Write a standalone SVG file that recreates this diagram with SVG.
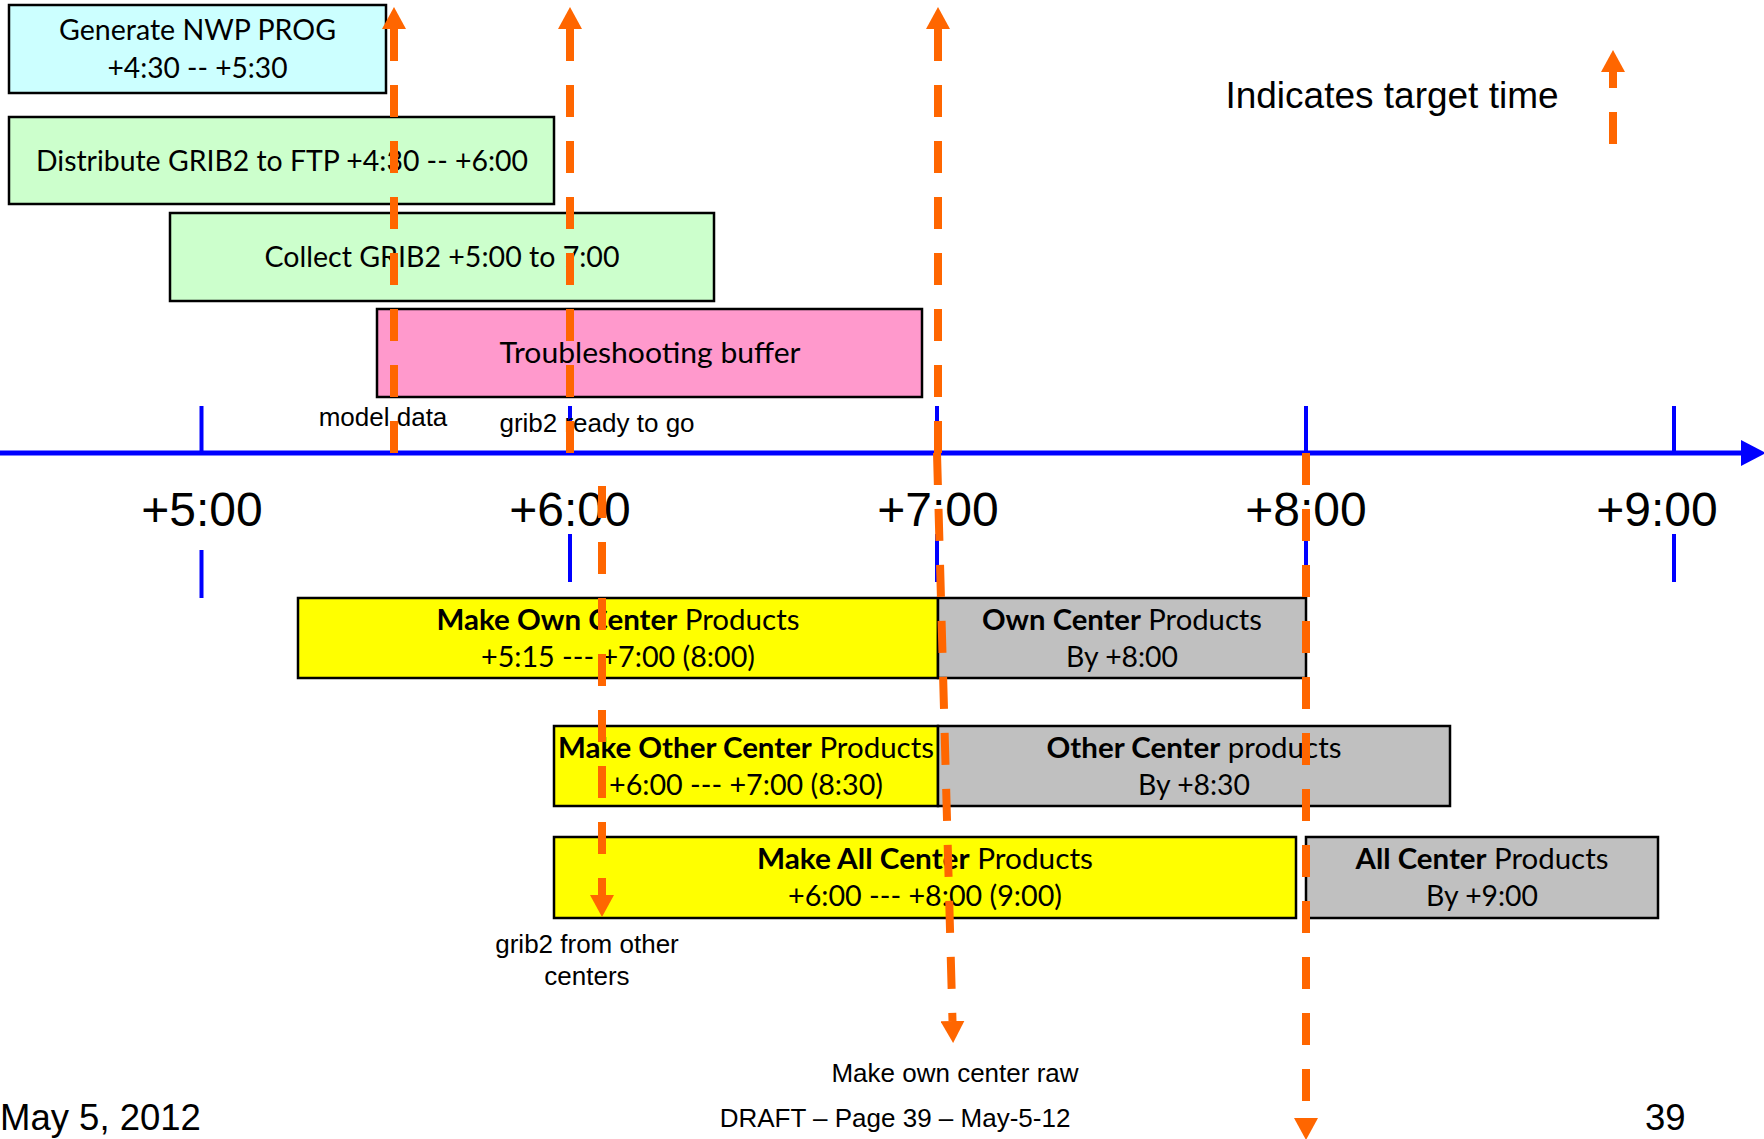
<svg xmlns="http://www.w3.org/2000/svg" width="1764" height="1139" viewBox="0 0 1764 1139">
<style>
.box{stroke:#000;stroke-width:2.5}
.cyan{fill:#CCFFFF}
.green{fill:#CCFFCC}
.pink{fill:#FF99CC}
.yellow{fill:#FFFF00}
.grey{fill:#C0C0C0}
.c{font-family:Lato,"Liberation Sans",sans-serif;font-size:29px;text-anchor:middle;fill:#000}
.b{font-weight:bold}
.a{font-family:"Liberation Sans",Arial,sans-serif;fill:#000}
.tl{font-size:48px;text-anchor:middle}
.sm{font-size:26px;text-anchor:middle}
.tick{stroke:#0000FF;stroke-width:4}
.dash{stroke:#FF6600;stroke-width:8;stroke-dasharray:32 24;fill:none;marker-end:url(#ah)}
</style>
<defs>
<marker id="ah" markerUnits="userSpaceOnUse" viewBox="0 0 22 24" refX="0" refY="12" markerWidth="22" markerHeight="24" orient="auto">
<path d="M0,0 L22,12 L0,24 z" fill="#FF6600"/>
</marker>
</defs>
<rect width="1764" height="1139" fill="#FFFFFF"/>

<g id="gen-nwp">
<rect class="box cyan" x="9" y="5" width="377" height="88"/>
<text class="c" x="197.5" y="40" textLength="277" lengthAdjust="spacingAndGlyphs">Generate NWP PROG</text>
<text class="c" x="197.5" y="78" textLength="180" lengthAdjust="spacingAndGlyphs">+4:30 -- +5:30</text>
</g>
<g id="distribute">
<rect class="box green" x="9" y="117" width="545" height="87"/>
<text class="c" x="282" y="171" textLength="492" lengthAdjust="spacingAndGlyphs">Distribute GRIB2 to FTP +4:30 -- +6:00</text>
</g>
<g id="collect">
<rect class="box green" x="170" y="213" width="544" height="88"/>
<text class="c" x="442" y="267" textLength="355" lengthAdjust="spacingAndGlyphs">Collect GRIB2 +5:00 to 7:00</text>
</g>
<g id="troubleshoot">
<rect class="box pink" x="377" y="309" width="545" height="88"/>
<text class="c" x="650" y="363" textLength="301" lengthAdjust="spacingAndGlyphs">Troubleshooting buffer</text>
</g>

<g id="timeline">
<line x1="0" y1="453" x2="1744" y2="453" stroke="#0000FF" stroke-width="5"/>
<polygon points="1741,440 1766,453 1741,466" fill="#0000FF"/>
<line class="tick" x1="201.5" y1="406" x2="201.5" y2="453"/>
<line class="tick" x1="570" y1="406" x2="570" y2="453"/>
<line class="tick" x1="937" y1="406" x2="937" y2="453"/>
<line class="tick" x1="1306" y1="406" x2="1306" y2="453"/>
<line class="tick" x1="1674" y1="406" x2="1674" y2="453"/>
<line class="tick" x1="201.5" y1="550" x2="201.5" y2="598"/>
<line class="tick" x1="570" y1="534" x2="570" y2="582"/>
<line class="tick" x1="937" y1="534" x2="937" y2="582"/>
<line class="tick" x1="1306" y1="534" x2="1306" y2="582"/>
<line class="tick" x1="1674" y1="534" x2="1674" y2="582"/>
<text class="a tl" x="202" y="526">+5:00</text>
<text class="a tl" x="570" y="526">+6:00</text>
<text class="a tl" x="938" y="526">+7:00</text>
<text class="a tl" x="1306" y="526">+8:00</text>
<text class="a tl" x="1657" y="526">+9:00</text>
</g>

<g id="label-model-data"><text class="a sm" x="383" y="426">model data</text></g>
<g id="label-grib2-ready"><text class="a sm" x="597" y="432">grib2 ready to go</text></g>

<g id="make-own">
<rect class="box yellow" x="298" y="598" width="640" height="80"/>
<text class="c" x="618" y="630" textLength="363" lengthAdjust="spacingAndGlyphs"><tspan class="b">Make Own Center</tspan> Products</text>
<text class="c" x="618" y="667" textLength="274" lengthAdjust="spacingAndGlyphs">+5:15 --- +7:00 (8:00)</text>
</g>
<g id="own-products">
<rect class="box grey" x="938" y="598" width="368" height="80"/>
<text class="c" x="1122" y="630" textLength="280" lengthAdjust="spacingAndGlyphs"><tspan class="b">Own Center</tspan> Products</text>
<text class="c" x="1122" y="667" textLength="112" lengthAdjust="spacingAndGlyphs">By +8:00</text>
</g>
<g id="make-other">
<rect class="box yellow" x="554" y="726" width="384" height="80"/>
<text class="c" x="746" y="758" textLength="376" lengthAdjust="spacingAndGlyphs"><tspan class="b">Make Other Center</tspan> Products</text>
<text class="c" x="746" y="795" textLength="274" lengthAdjust="spacingAndGlyphs">+6:00 --- +7:00 (8:30)</text>
</g>
<g id="other-products">
<rect class="box grey" x="938" y="726" width="512" height="80"/>
<text class="c" x="1194" y="758" textLength="295" lengthAdjust="spacingAndGlyphs"><tspan class="b">Other Center</tspan> products</text>
<text class="c" x="1194" y="795" textLength="112" lengthAdjust="spacingAndGlyphs">By +8:30</text>
</g>
<g id="make-all">
<rect class="box yellow" x="554" y="837" width="742" height="81"/>
<text class="c" x="925" y="869" textLength="336" lengthAdjust="spacingAndGlyphs"><tspan class="b">Make All Center</tspan> Products</text>
<text class="c" x="925" y="906" textLength="274" lengthAdjust="spacingAndGlyphs">+6:00 --- +8:00 (9:00)</text>
</g>
<g id="all-products">
<rect class="box grey" x="1306" y="837" width="352" height="81"/>
<text class="c" x="1482" y="869" textLength="253" lengthAdjust="spacingAndGlyphs"><tspan class="b">All Center</tspan> Products</text>
<text class="c" x="1482" y="906" textLength="112" lengthAdjust="spacingAndGlyphs">By +9:00</text>
</g>

<g id="label-grib2-other"><text class="a sm" x="587" y="953">grib2 from other</text><text class="a sm" x="587" y="985">centers</text></g>
<g id="label-own-raw"><text class="a sm" x="955" y="1082">Make own center raw</text></g>
<g id="legend">
<text class="a" x="1392" y="108" font-size="37" text-anchor="middle">Indicates target time</text>
<path class="dash" d="M1613,144 V72"/>
</g>

<g id="connectors">
<path class="dash" d="M394,453 V29"/>
<path class="dash" d="M570,453 V29"/>
<path class="dash" d="M938,453 V29"/>
<path class="dash" d="M602,486 V895"/>
<path class="dash" d="M937,453 L952.5,1021"/>
<path class="dash" d="M1306,453 V1118"/>
</g>

<g id="footer">
<text class="a" x="0" y="1130" font-size="36.5">May 5, 2012</text>
<text class="a sm" x="895" y="1127">DRAFT – Page 39 – May-5-12</text>
<text class="a" x="1645" y="1130" font-size="36.5">39</text>
</g>
</svg>
